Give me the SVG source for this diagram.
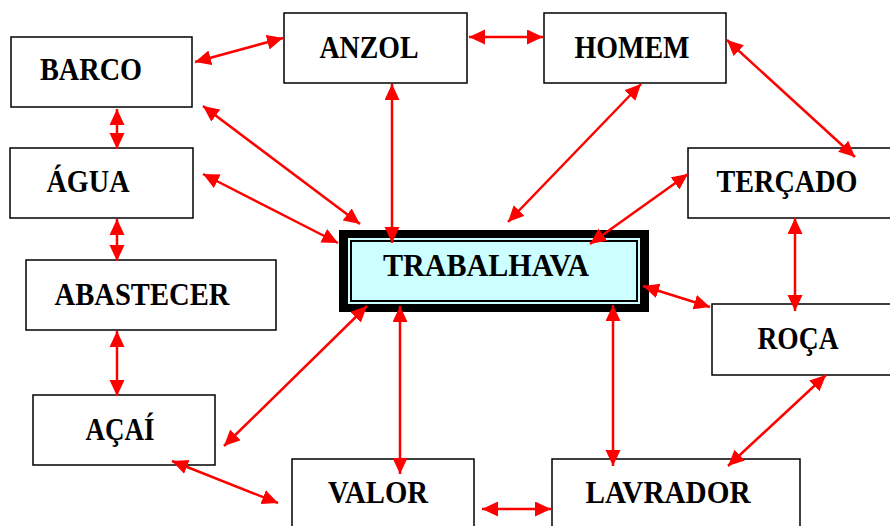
<svg xmlns="http://www.w3.org/2000/svg" width="890" height="526" viewBox="0 0 890 526">
<defs>
<marker id="ah" markerUnits="userSpaceOnUse" markerWidth="17" markerHeight="16" refX="16" refY="7.5" orient="auto-start-reverse">
<path d="M0,0 L16,7.5 L0,15 z" fill="#ff0000"/>
</marker>
<style>
.box{fill:#fff;stroke:#000;stroke-width:1.5}
.t{font-family:"Liberation Serif","DejaVu Serif",serif;font-weight:bold;font-size:32px;fill:#000;text-anchor:middle}
.c line{stroke:#ff0000;stroke-width:2.5;marker-start:url(#ah);marker-end:url(#ah)}
</style>
</defs>
<rect width="890" height="526" fill="#fff"/>
<g id="barco"><rect class="box" x="11" y="37" width="181" height="70"/><text class="t" x="91" y="80" textLength="102" lengthAdjust="spacingAndGlyphs">BARCO</text></g>
<g id="agua"><rect class="box" x="10" y="148" width="183" height="70"/><text class="t" x="88" y="192" textLength="83" lengthAdjust="spacingAndGlyphs">ÁGUA</text></g>
<g id="abastecer"><rect class="box" x="26" y="260" width="250" height="70"/><text class="t" x="142" y="305" textLength="175" lengthAdjust="spacingAndGlyphs">ABASTECER</text></g>
<g id="acai"><rect class="box" x="33" y="395" width="182" height="70"/><text class="t" x="120" y="440" textLength="69" lengthAdjust="spacingAndGlyphs">AÇAÍ</text></g>
<g id="valor"><rect class="box" x="292" y="459" width="182" height="80"/><text class="t" x="378" y="503" textLength="100" lengthAdjust="spacingAndGlyphs">VALOR</text></g>
<g id="lavrador"><rect class="box" x="552" y="459" width="248" height="80"/><text class="t" x="668" y="503" textLength="165" lengthAdjust="spacingAndGlyphs">LAVRADOR</text></g>
<g id="roca"><rect class="box" x="712" y="304" width="190" height="71"/><text class="t" x="798" y="349" textLength="81" lengthAdjust="spacingAndGlyphs">ROÇA</text></g>
<g id="tercado"><rect class="box" x="688" y="148" width="210" height="70"/><text class="t" x="787" y="192" textLength="141" lengthAdjust="spacingAndGlyphs">TERÇADO</text></g>
<g id="homem"><rect class="box" x="544" y="13" width="182" height="70"/><text class="t" x="632" y="58" textLength="115" lengthAdjust="spacingAndGlyphs">HOMEM</text></g>
<g id="anzol"><rect class="box" x="284" y="13" width="183" height="70"/><text class="t" x="369" y="58" textLength="99" lengthAdjust="spacingAndGlyphs">ANZOL</text></g>
<g id="trabalhava">
<rect x="339" y="230" width="310" height="82" fill="#000"/>
<rect x="348" y="238" width="292" height="66" fill="#ccffff"/>
<rect x="351" y="241" width="286" height="60" fill="#ccffff" stroke="#000" stroke-width="2"/>
<text class="t" x="486" y="276" textLength="206" lengthAdjust="spacingAndGlyphs">TRABALHAVA</text>
</g>
<g class="c">
<line x1="195" y1="62" x2="283" y2="38"/>
<line x1="469" y1="37" x2="543" y2="37"/>
<line x1="727" y1="40" x2="855" y2="157"/>
<line x1="117" y1="109" x2="117" y2="149"/>
<line x1="117" y1="219" x2="117" y2="261"/>
<line x1="117" y1="331" x2="117" y2="396"/>
<line x1="203" y1="106" x2="360" y2="224"/>
<line x1="203" y1="174" x2="338" y2="243"/>
<line x1="392" y1="84" x2="392" y2="243"/>
<line x1="641" y1="84" x2="508" y2="222"/>
<line x1="688" y1="174" x2="590" y2="244"/>
<line x1="795" y1="218" x2="795" y2="311"/>
<line x1="710" y1="307" x2="643" y2="286"/>
<line x1="826" y1="375" x2="728" y2="466"/>
<line x1="613" y1="305" x2="613" y2="466"/>
<line x1="400" y1="306" x2="400" y2="474"/>
<line x1="367" y1="306" x2="224" y2="446"/>
<line x1="172" y1="461" x2="278" y2="503"/>
<line x1="482" y1="509" x2="551" y2="509"/>
</g>
</svg>
